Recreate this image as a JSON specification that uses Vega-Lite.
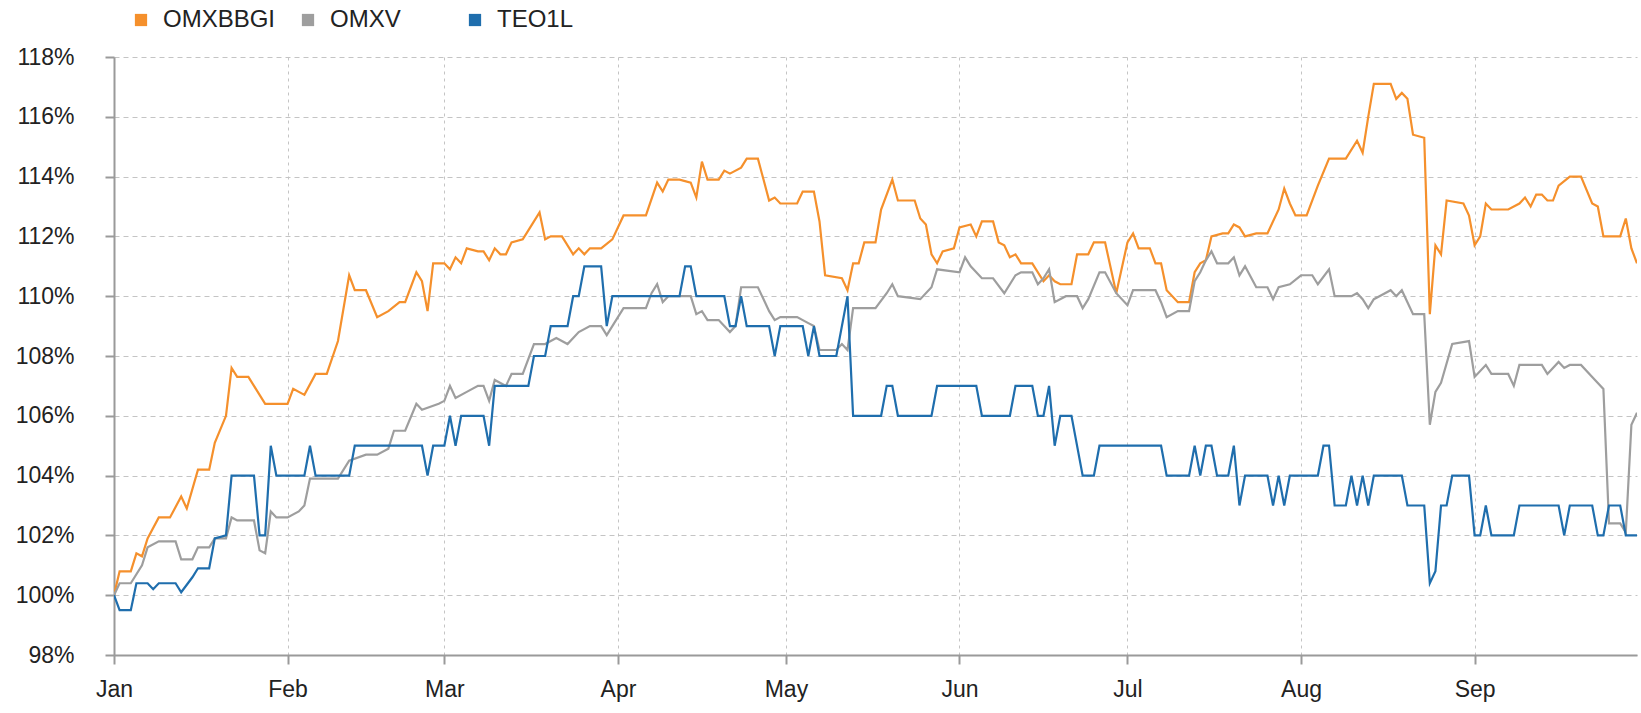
{
  "$schema": "https://vega.github.io/schema/vega-lite/v6.json",
  "width": 1523,
  "height": 598,
  "autosize": {"type": "none"},
  "padding": {"left": 114, "top": 57, "right": 4, "bottom": 58},
  "background": "white",
  "config": {
    "view": {"stroke": null},
    "font": "Liberation Sans, Arial, sans-serif",
    "axis": {
      "domainColor": "#9a9a9a",
      "domainWidth": 2,
      "tickColor": "#9a9a9a",
      "tickWidth": 2,
      "gridColor": "#c4c4c4",
      "gridWidth": 1,
      "labelFont": "Liberation Sans, Arial, sans-serif",
      "labelFontSize": 23,
      "labelColor": "#222222",
      "title": null
    },
    "legend": {
      "labelFont": "Liberation Sans, Arial, sans-serif",
      "labelFontSize": 24,
      "labelColor": "#222222"
    }
  },
  "data": {
    "values": [
      {"d":"2015-01-01","s":"OMXBBGI","v":100.0},{"d":"2015-01-02","s":"OMXBBGI","v":100.8},{"d":"2015-01-04","s":"OMXBBGI","v":100.8},{"d":"2015-01-05","s":"OMXBBGI","v":101.4},{"d":"2015-01-06","s":"OMXBBGI","v":101.3},{"d":"2015-01-07","s":"OMXBBGI","v":101.9},{"d":"2015-01-09","s":"OMXBBGI","v":102.6},{"d":"2015-01-11","s":"OMXBBGI","v":102.6},{"d":"2015-01-13","s":"OMXBBGI","v":103.3},{"d":"2015-01-14","s":"OMXBBGI","v":102.9},{"d":"2015-01-16","s":"OMXBBGI","v":104.2},{"d":"2015-01-18","s":"OMXBBGI","v":104.2},{"d":"2015-01-19","s":"OMXBBGI","v":105.1},{"d":"2015-01-21","s":"OMXBBGI","v":106.0},{"d":"2015-01-22","s":"OMXBBGI","v":107.6},{"d":"2015-01-23","s":"OMXBBGI","v":107.3},{"d":"2015-01-25","s":"OMXBBGI","v":107.3},{"d":"2015-01-27","s":"OMXBBGI","v":106.7},{"d":"2015-01-28","s":"OMXBBGI","v":106.4},{"d":"2015-01-30","s":"OMXBBGI","v":106.4},
      {"d":"2015-02-01","s":"OMXBBGI","v":106.4},{"d":"2015-02-02","s":"OMXBBGI","v":106.9},{"d":"2015-02-04","s":"OMXBBGI","v":106.7},{"d":"2015-02-06","s":"OMXBBGI","v":107.4},{"d":"2015-02-08","s":"OMXBBGI","v":107.4},{"d":"2015-02-10","s":"OMXBBGI","v":108.5},{"d":"2015-02-12","s":"OMXBBGI","v":110.7},{"d":"2015-02-13","s":"OMXBBGI","v":110.2},{"d":"2015-02-15","s":"OMXBBGI","v":110.2},{"d":"2015-02-17","s":"OMXBBGI","v":109.3},{"d":"2015-02-19","s":"OMXBBGI","v":109.5},{"d":"2015-02-21","s":"OMXBBGI","v":109.8},{"d":"2015-02-22","s":"OMXBBGI","v":109.8},{"d":"2015-02-24","s":"OMXBBGI","v":110.8},{"d":"2015-02-25","s":"OMXBBGI","v":110.5},{"d":"2015-02-26","s":"OMXBBGI","v":109.5},{"d":"2015-02-27","s":"OMXBBGI","v":111.1},
      {"d":"2015-03-01","s":"OMXBBGI","v":111.1},{"d":"2015-03-02","s":"OMXBBGI","v":110.9},{"d":"2015-03-03","s":"OMXBBGI","v":111.3},{"d":"2015-03-04","s":"OMXBBGI","v":111.1},{"d":"2015-03-05","s":"OMXBBGI","v":111.6},{"d":"2015-03-07","s":"OMXBBGI","v":111.5},{"d":"2015-03-08","s":"OMXBBGI","v":111.5},{"d":"2015-03-09","s":"OMXBBGI","v":111.2},{"d":"2015-03-10","s":"OMXBBGI","v":111.6},{"d":"2015-03-11","s":"OMXBBGI","v":111.4},{"d":"2015-03-12","s":"OMXBBGI","v":111.4},{"d":"2015-03-13","s":"OMXBBGI","v":111.8},{"d":"2015-03-15","s":"OMXBBGI","v":111.9},{"d":"2015-03-16","s":"OMXBBGI","v":112.2},{"d":"2015-03-18","s":"OMXBBGI","v":112.8},{"d":"2015-03-19","s":"OMXBBGI","v":111.9},{"d":"2015-03-20","s":"OMXBBGI","v":112.0},{"d":"2015-03-22","s":"OMXBBGI","v":112.0},{"d":"2015-03-24","s":"OMXBBGI","v":111.4},{"d":"2015-03-25","s":"OMXBBGI","v":111.6},{"d":"2015-03-26","s":"OMXBBGI","v":111.4},{"d":"2015-03-27","s":"OMXBBGI","v":111.6},{"d":"2015-03-29","s":"OMXBBGI","v":111.6},{"d":"2015-03-31","s":"OMXBBGI","v":111.9},
      {"d":"2015-04-02","s":"OMXBBGI","v":112.7},{"d":"2015-04-06","s":"OMXBBGI","v":112.7},{"d":"2015-04-08","s":"OMXBBGI","v":113.8},{"d":"2015-04-09","s":"OMXBBGI","v":113.5},{"d":"2015-04-10","s":"OMXBBGI","v":113.9},{"d":"2015-04-12","s":"OMXBBGI","v":113.9},{"d":"2015-04-14","s":"OMXBBGI","v":113.8},{"d":"2015-04-15","s":"OMXBBGI","v":113.3},{"d":"2015-04-16","s":"OMXBBGI","v":114.5},{"d":"2015-04-17","s":"OMXBBGI","v":113.9},{"d":"2015-04-19","s":"OMXBBGI","v":113.9},{"d":"2015-04-20","s":"OMXBBGI","v":114.2},{"d":"2015-04-21","s":"OMXBBGI","v":114.1},{"d":"2015-04-23","s":"OMXBBGI","v":114.3},{"d":"2015-04-24","s":"OMXBBGI","v":114.6},{"d":"2015-04-26","s":"OMXBBGI","v":114.6},{"d":"2015-04-27","s":"OMXBBGI","v":113.9},{"d":"2015-04-28","s":"OMXBBGI","v":113.2},{"d":"2015-04-29","s":"OMXBBGI","v":113.3},{"d":"2015-04-30","s":"OMXBBGI","v":113.1},
      {"d":"2015-05-03","s":"OMXBBGI","v":113.1},{"d":"2015-05-04","s":"OMXBBGI","v":113.5},{"d":"2015-05-06","s":"OMXBBGI","v":113.5},{"d":"2015-05-07","s":"OMXBBGI","v":112.5},{"d":"2015-05-08","s":"OMXBBGI","v":110.7},{"d":"2015-05-11","s":"OMXBBGI","v":110.6},{"d":"2015-05-12","s":"OMXBBGI","v":110.2},{"d":"2015-05-13","s":"OMXBBGI","v":111.1},{"d":"2015-05-14","s":"OMXBBGI","v":111.1},{"d":"2015-05-15","s":"OMXBBGI","v":111.8},{"d":"2015-05-17","s":"OMXBBGI","v":111.8},{"d":"2015-05-18","s":"OMXBBGI","v":112.9},{"d":"2015-05-20","s":"OMXBBGI","v":113.9},{"d":"2015-05-21","s":"OMXBBGI","v":113.2},{"d":"2015-05-24","s":"OMXBBGI","v":113.2},{"d":"2015-05-25","s":"OMXBBGI","v":112.6},{"d":"2015-05-26","s":"OMXBBGI","v":112.4},{"d":"2015-05-27","s":"OMXBBGI","v":111.4},{"d":"2015-05-28","s":"OMXBBGI","v":111.1},{"d":"2015-05-29","s":"OMXBBGI","v":111.5},{"d":"2015-05-31","s":"OMXBBGI","v":111.6},
      {"d":"2015-06-01","s":"OMXBBGI","v":112.3},{"d":"2015-06-03","s":"OMXBBGI","v":112.4},{"d":"2015-06-04","s":"OMXBBGI","v":112.0},{"d":"2015-06-05","s":"OMXBBGI","v":112.5},{"d":"2015-06-07","s":"OMXBBGI","v":112.5},{"d":"2015-06-08","s":"OMXBBGI","v":111.8},{"d":"2015-06-09","s":"OMXBBGI","v":111.7},{"d":"2015-06-10","s":"OMXBBGI","v":111.3},{"d":"2015-06-11","s":"OMXBBGI","v":111.4},{"d":"2015-06-12","s":"OMXBBGI","v":111.1},{"d":"2015-06-14","s":"OMXBBGI","v":111.1},{"d":"2015-06-16","s":"OMXBBGI","v":110.5},{"d":"2015-06-17","s":"OMXBBGI","v":110.7},{"d":"2015-06-18","s":"OMXBBGI","v":110.5},{"d":"2015-06-19","s":"OMXBBGI","v":110.4},{"d":"2015-06-21","s":"OMXBBGI","v":110.4},{"d":"2015-06-22","s":"OMXBBGI","v":111.4},{"d":"2015-06-24","s":"OMXBBGI","v":111.4},{"d":"2015-06-25","s":"OMXBBGI","v":111.8},{"d":"2015-06-27","s":"OMXBBGI","v":111.8},{"d":"2015-06-29","s":"OMXBBGI","v":110.1},
      {"d":"2015-07-01","s":"OMXBBGI","v":111.8},{"d":"2015-07-02","s":"OMXBBGI","v":112.1},{"d":"2015-07-03","s":"OMXBBGI","v":111.6},{"d":"2015-07-05","s":"OMXBBGI","v":111.6},{"d":"2015-07-06","s":"OMXBBGI","v":111.1},{"d":"2015-07-07","s":"OMXBBGI","v":111.1},{"d":"2015-07-08","s":"OMXBBGI","v":110.2},{"d":"2015-07-10","s":"OMXBBGI","v":109.8},{"d":"2015-07-12","s":"OMXBBGI","v":109.8},{"d":"2015-07-13","s":"OMXBBGI","v":110.8},{"d":"2015-07-14","s":"OMXBBGI","v":111.1},{"d":"2015-07-15","s":"OMXBBGI","v":111.2},{"d":"2015-07-16","s":"OMXBBGI","v":112.0},{"d":"2015-07-18","s":"OMXBBGI","v":112.1},{"d":"2015-07-19","s":"OMXBBGI","v":112.1},{"d":"2015-07-20","s":"OMXBBGI","v":112.4},{"d":"2015-07-21","s":"OMXBBGI","v":112.3},{"d":"2015-07-22","s":"OMXBBGI","v":112.0},{"d":"2015-07-24","s":"OMXBBGI","v":112.1},{"d":"2015-07-26","s":"OMXBBGI","v":112.1},{"d":"2015-07-28","s":"OMXBBGI","v":112.9},{"d":"2015-07-29","s":"OMXBBGI","v":113.6},{"d":"2015-07-30","s":"OMXBBGI","v":113.1},{"d":"2015-07-31","s":"OMXBBGI","v":112.7},
      {"d":"2015-08-02","s":"OMXBBGI","v":112.7},{"d":"2015-08-04","s":"OMXBBGI","v":113.7},{"d":"2015-08-06","s":"OMXBBGI","v":114.6},{"d":"2015-08-09","s":"OMXBBGI","v":114.6},{"d":"2015-08-11","s":"OMXBBGI","v":115.2},{"d":"2015-08-12","s":"OMXBBGI","v":114.8},{"d":"2015-08-13","s":"OMXBBGI","v":116.0},{"d":"2015-08-14","s":"OMXBBGI","v":117.1},{"d":"2015-08-17","s":"OMXBBGI","v":117.1},{"d":"2015-08-18","s":"OMXBBGI","v":116.6},{"d":"2015-08-19","s":"OMXBBGI","v":116.8},{"d":"2015-08-20","s":"OMXBBGI","v":116.6},{"d":"2015-08-21","s":"OMXBBGI","v":115.4},{"d":"2015-08-23","s":"OMXBBGI","v":115.3},{"d":"2015-08-24","s":"OMXBBGI","v":109.4},{"d":"2015-08-25","s":"OMXBBGI","v":111.7},{"d":"2015-08-26","s":"OMXBBGI","v":111.4},{"d":"2015-08-27","s":"OMXBBGI","v":113.2},{"d":"2015-08-30","s":"OMXBBGI","v":113.1},{"d":"2015-08-31","s":"OMXBBGI","v":112.7},
      {"d":"2015-09-01","s":"OMXBBGI","v":111.7},{"d":"2015-09-02","s":"OMXBBGI","v":112.0},{"d":"2015-09-03","s":"OMXBBGI","v":113.1},{"d":"2015-09-04","s":"OMXBBGI","v":112.9},{"d":"2015-09-07","s":"OMXBBGI","v":112.9},{"d":"2015-09-09","s":"OMXBBGI","v":113.1},{"d":"2015-09-10","s":"OMXBBGI","v":113.3},{"d":"2015-09-11","s":"OMXBBGI","v":113.0},{"d":"2015-09-12","s":"OMXBBGI","v":113.4},{"d":"2015-09-13","s":"OMXBBGI","v":113.4},{"d":"2015-09-14","s":"OMXBBGI","v":113.2},{"d":"2015-09-15","s":"OMXBBGI","v":113.2},{"d":"2015-09-16","s":"OMXBBGI","v":113.7},{"d":"2015-09-18","s":"OMXBBGI","v":114.0},{"d":"2015-09-20","s":"OMXBBGI","v":114.0},{"d":"2015-09-22","s":"OMXBBGI","v":113.1},{"d":"2015-09-23","s":"OMXBBGI","v":113.0},{"d":"2015-09-24","s":"OMXBBGI","v":112.0},{"d":"2015-09-27","s":"OMXBBGI","v":112.0},{"d":"2015-09-28","s":"OMXBBGI","v":112.6},{"d":"2015-09-29","s":"OMXBBGI","v":111.6},{"d":"2015-09-30","s":"OMXBBGI","v":111.1},

      {"d":"2015-01-01","s":"OMXV","v":100.0},{"d":"2015-01-02","s":"OMXV","v":100.4},{"d":"2015-01-04","s":"OMXV","v":100.4},{"d":"2015-01-06","s":"OMXV","v":101.0},{"d":"2015-01-07","s":"OMXV","v":101.6},{"d":"2015-01-09","s":"OMXV","v":101.8},{"d":"2015-01-12","s":"OMXV","v":101.8},{"d":"2015-01-13","s":"OMXV","v":101.2},{"d":"2015-01-15","s":"OMXV","v":101.2},{"d":"2015-01-16","s":"OMXV","v":101.6},{"d":"2015-01-18","s":"OMXV","v":101.6},{"d":"2015-01-19","s":"OMXV","v":101.9},{"d":"2015-01-21","s":"OMXV","v":101.9},{"d":"2015-01-22","s":"OMXV","v":102.6},{"d":"2015-01-23","s":"OMXV","v":102.5},{"d":"2015-01-26","s":"OMXV","v":102.5},{"d":"2015-01-27","s":"OMXV","v":101.5},{"d":"2015-01-28","s":"OMXV","v":101.4},{"d":"2015-01-29","s":"OMXV","v":102.8},{"d":"2015-01-30","s":"OMXV","v":102.6},
      {"d":"2015-02-01","s":"OMXV","v":102.6},{"d":"2015-02-03","s":"OMXV","v":102.8},{"d":"2015-02-04","s":"OMXV","v":103.0},{"d":"2015-02-05","s":"OMXV","v":103.9},{"d":"2015-02-10","s":"OMXV","v":103.9},{"d":"2015-02-12","s":"OMXV","v":104.5},{"d":"2015-02-15","s":"OMXV","v":104.7},{"d":"2015-02-17","s":"OMXV","v":104.7},{"d":"2015-02-19","s":"OMXV","v":104.9},{"d":"2015-02-20","s":"OMXV","v":105.5},{"d":"2015-02-22","s":"OMXV","v":105.5},{"d":"2015-02-24","s":"OMXV","v":106.4},{"d":"2015-02-25","s":"OMXV","v":106.2},{"d":"2015-02-28","s":"OMXV","v":106.4},
      {"d":"2015-03-01","s":"OMXV","v":106.5},{"d":"2015-03-02","s":"OMXV","v":107.0},{"d":"2015-03-03","s":"OMXV","v":106.6},{"d":"2015-03-05","s":"OMXV","v":106.8},{"d":"2015-03-07","s":"OMXV","v":107.0},{"d":"2015-03-08","s":"OMXV","v":107.0},{"d":"2015-03-09","s":"OMXV","v":106.5},{"d":"2015-03-10","s":"OMXV","v":107.2},{"d":"2015-03-12","s":"OMXV","v":107.0},{"d":"2015-03-13","s":"OMXV","v":107.4},{"d":"2015-03-15","s":"OMXV","v":107.4},{"d":"2015-03-17","s":"OMXV","v":108.4},{"d":"2015-03-19","s":"OMXV","v":108.4},{"d":"2015-03-20","s":"OMXV","v":108.5},{"d":"2015-03-21","s":"OMXV","v":108.6},{"d":"2015-03-23","s":"OMXV","v":108.4},{"d":"2015-03-25","s":"OMXV","v":108.8},{"d":"2015-03-27","s":"OMXV","v":109.0},{"d":"2015-03-29","s":"OMXV","v":109.0},{"d":"2015-03-30","s":"OMXV","v":108.7},{"d":"2015-03-31","s":"OMXV","v":109.0},
      {"d":"2015-04-01","s":"OMXV","v":109.3},{"d":"2015-04-02","s":"OMXV","v":109.6},{"d":"2015-04-06","s":"OMXV","v":109.6},{"d":"2015-04-07","s":"OMXV","v":110.1},{"d":"2015-04-08","s":"OMXV","v":110.4},{"d":"2015-04-09","s":"OMXV","v":109.8},{"d":"2015-04-10","s":"OMXV","v":110.0},{"d":"2015-04-14","s":"OMXV","v":110.0},{"d":"2015-04-15","s":"OMXV","v":109.4},{"d":"2015-04-16","s":"OMXV","v":109.5},{"d":"2015-04-17","s":"OMXV","v":109.2},{"d":"2015-04-19","s":"OMXV","v":109.2},{"d":"2015-04-21","s":"OMXV","v":108.8},{"d":"2015-04-22","s":"OMXV","v":109.0},{"d":"2015-04-23","s":"OMXV","v":110.3},{"d":"2015-04-26","s":"OMXV","v":110.3},{"d":"2015-04-28","s":"OMXV","v":109.5},{"d":"2015-04-29","s":"OMXV","v":109.2},{"d":"2015-04-30","s":"OMXV","v":109.3},
      {"d":"2015-05-03","s":"OMXV","v":109.3},{"d":"2015-05-05","s":"OMXV","v":109.1},{"d":"2015-05-06","s":"OMXV","v":109.0},{"d":"2015-05-07","s":"OMXV","v":108.2},{"d":"2015-05-10","s":"OMXV","v":108.2},{"d":"2015-05-11","s":"OMXV","v":108.4},{"d":"2015-05-12","s":"OMXV","v":108.2},{"d":"2015-05-13","s":"OMXV","v":109.6},{"d":"2015-05-17","s":"OMXV","v":109.6},{"d":"2015-05-19","s":"OMXV","v":110.1},{"d":"2015-05-20","s":"OMXV","v":110.4},{"d":"2015-05-21","s":"OMXV","v":110.0},{"d":"2015-05-25","s":"OMXV","v":109.9},{"d":"2015-05-27","s":"OMXV","v":110.3},{"d":"2015-05-28","s":"OMXV","v":110.9},
      {"d":"2015-06-01","s":"OMXV","v":110.8},{"d":"2015-06-02","s":"OMXV","v":111.3},{"d":"2015-06-03","s":"OMXV","v":111.0},{"d":"2015-06-05","s":"OMXV","v":110.6},{"d":"2015-06-07","s":"OMXV","v":110.6},{"d":"2015-06-09","s":"OMXV","v":110.1},{"d":"2015-06-11","s":"OMXV","v":110.7},{"d":"2015-06-12","s":"OMXV","v":110.8},{"d":"2015-06-14","s":"OMXV","v":110.8},{"d":"2015-06-15","s":"OMXV","v":110.4},{"d":"2015-06-16","s":"OMXV","v":110.6},{"d":"2015-06-17","s":"OMXV","v":110.9},{"d":"2015-06-18","s":"OMXV","v":109.8},{"d":"2015-06-20","s":"OMXV","v":110.0},{"d":"2015-06-22","s":"OMXV","v":110.0},{"d":"2015-06-23","s":"OMXV","v":109.6},{"d":"2015-06-24","s":"OMXV","v":109.9},{"d":"2015-06-26","s":"OMXV","v":110.8},{"d":"2015-06-27","s":"OMXV","v":110.8},{"d":"2015-06-29","s":"OMXV","v":110.1},
      {"d":"2015-07-01","s":"OMXV","v":109.7},{"d":"2015-07-02","s":"OMXV","v":110.2},{"d":"2015-07-06","s":"OMXV","v":110.2},{"d":"2015-07-07","s":"OMXV","v":109.8},{"d":"2015-07-08","s":"OMXV","v":109.3},{"d":"2015-07-10","s":"OMXV","v":109.5},{"d":"2015-07-12","s":"OMXV","v":109.5},{"d":"2015-07-13","s":"OMXV","v":110.5},{"d":"2015-07-14","s":"OMXV","v":110.8},{"d":"2015-07-15","s":"OMXV","v":111.2},{"d":"2015-07-16","s":"OMXV","v":111.5},{"d":"2015-07-17","s":"OMXV","v":111.1},{"d":"2015-07-19","s":"OMXV","v":111.1},{"d":"2015-07-20","s":"OMXV","v":111.3},{"d":"2015-07-21","s":"OMXV","v":110.7},{"d":"2015-07-22","s":"OMXV","v":111.0},{"d":"2015-07-24","s":"OMXV","v":110.3},{"d":"2015-07-26","s":"OMXV","v":110.3},{"d":"2015-07-27","s":"OMXV","v":109.9},{"d":"2015-07-28","s":"OMXV","v":110.3},{"d":"2015-07-30","s":"OMXV","v":110.4},
      {"d":"2015-08-01","s":"OMXV","v":110.7},{"d":"2015-08-03","s":"OMXV","v":110.7},{"d":"2015-08-04","s":"OMXV","v":110.4},{"d":"2015-08-06","s":"OMXV","v":110.9},{"d":"2015-08-07","s":"OMXV","v":110.0},{"d":"2015-08-10","s":"OMXV","v":110.0},{"d":"2015-08-11","s":"OMXV","v":110.1},{"d":"2015-08-12","s":"OMXV","v":109.9},{"d":"2015-08-13","s":"OMXV","v":109.6},{"d":"2015-08-14","s":"OMXV","v":109.9},{"d":"2015-08-15","s":"OMXV","v":110.0},{"d":"2015-08-17","s":"OMXV","v":110.2},{"d":"2015-08-18","s":"OMXV","v":110.0},{"d":"2015-08-19","s":"OMXV","v":110.2},{"d":"2015-08-20","s":"OMXV","v":109.8},{"d":"2015-08-21","s":"OMXV","v":109.4},{"d":"2015-08-23","s":"OMXV","v":109.4},{"d":"2015-08-24","s":"OMXV","v":105.7},{"d":"2015-08-25","s":"OMXV","v":106.8},{"d":"2015-08-26","s":"OMXV","v":107.1},{"d":"2015-08-28","s":"OMXV","v":108.4},{"d":"2015-08-31","s":"OMXV","v":108.5},
      {"d":"2015-09-01","s":"OMXV","v":107.3},{"d":"2015-09-03","s":"OMXV","v":107.7},{"d":"2015-09-04","s":"OMXV","v":107.4},{"d":"2015-09-07","s":"OMXV","v":107.4},{"d":"2015-09-08","s":"OMXV","v":107.0},{"d":"2015-09-09","s":"OMXV","v":107.7},{"d":"2015-09-13","s":"OMXV","v":107.7},{"d":"2015-09-14","s":"OMXV","v":107.4},{"d":"2015-09-16","s":"OMXV","v":107.8},{"d":"2015-09-17","s":"OMXV","v":107.6},{"d":"2015-09-18","s":"OMXV","v":107.7},{"d":"2015-09-20","s":"OMXV","v":107.7},{"d":"2015-09-22","s":"OMXV","v":107.3},{"d":"2015-09-24","s":"OMXV","v":106.9},{"d":"2015-09-25","s":"OMXV","v":102.4},{"d":"2015-09-27","s":"OMXV","v":102.4},{"d":"2015-09-28","s":"OMXV","v":102.1},{"d":"2015-09-29","s":"OMXV","v":105.7},{"d":"2015-09-30","s":"OMXV","v":106.1},

      {"d":"2015-01-01","s":"TEO1L","v":100.0},{"d":"2015-01-02","s":"TEO1L","v":99.5},{"d":"2015-01-04","s":"TEO1L","v":99.5},{"d":"2015-01-05","s":"TEO1L","v":100.4},{"d":"2015-01-07","s":"TEO1L","v":100.4},{"d":"2015-01-08","s":"TEO1L","v":100.2},{"d":"2015-01-09","s":"TEO1L","v":100.4},{"d":"2015-01-12","s":"TEO1L","v":100.4},{"d":"2015-01-13","s":"TEO1L","v":100.1},{"d":"2015-01-15","s":"TEO1L","v":100.6},{"d":"2015-01-16","s":"TEO1L","v":100.9},{"d":"2015-01-18","s":"TEO1L","v":100.9},{"d":"2015-01-19","s":"TEO1L","v":101.9},{"d":"2015-01-21","s":"TEO1L","v":102.0},{"d":"2015-01-22","s":"TEO1L","v":104.0},{"d":"2015-01-26","s":"TEO1L","v":104.0},{"d":"2015-01-27","s":"TEO1L","v":102.0},{"d":"2015-01-28","s":"TEO1L","v":102.0},{"d":"2015-01-29","s":"TEO1L","v":105.0},{"d":"2015-01-30","s":"TEO1L","v":104.0},
      {"d":"2015-02-04","s":"TEO1L","v":104.0},{"d":"2015-02-05","s":"TEO1L","v":105.0},{"d":"2015-02-06","s":"TEO1L","v":104.0},{"d":"2015-02-12","s":"TEO1L","v":104.0},{"d":"2015-02-13","s":"TEO1L","v":105.0},{"d":"2015-02-25","s":"TEO1L","v":105.0},{"d":"2015-02-26","s":"TEO1L","v":104.0},{"d":"2015-02-27","s":"TEO1L","v":105.0},
      {"d":"2015-03-01","s":"TEO1L","v":105.0},{"d":"2015-03-02","s":"TEO1L","v":106.0},{"d":"2015-03-03","s":"TEO1L","v":105.0},{"d":"2015-03-04","s":"TEO1L","v":106.0},{"d":"2015-03-08","s":"TEO1L","v":106.0},{"d":"2015-03-09","s":"TEO1L","v":105.0},{"d":"2015-03-10","s":"TEO1L","v":107.0},{"d":"2015-03-16","s":"TEO1L","v":107.0},{"d":"2015-03-17","s":"TEO1L","v":108.0},{"d":"2015-03-19","s":"TEO1L","v":108.0},{"d":"2015-03-20","s":"TEO1L","v":109.0},{"d":"2015-03-23","s":"TEO1L","v":109.0},{"d":"2015-03-24","s":"TEO1L","v":110.0},{"d":"2015-03-25","s":"TEO1L","v":110.0},{"d":"2015-03-26","s":"TEO1L","v":111.0},{"d":"2015-03-29","s":"TEO1L","v":111.0},{"d":"2015-03-30","s":"TEO1L","v":109.0},{"d":"2015-03-31","s":"TEO1L","v":110.0},
      {"d":"2015-04-12","s":"TEO1L","v":110.0},{"d":"2015-04-13","s":"TEO1L","v":111.0},{"d":"2015-04-14","s":"TEO1L","v":111.0},{"d":"2015-04-15","s":"TEO1L","v":110.0},{"d":"2015-04-20","s":"TEO1L","v":110.0},{"d":"2015-04-21","s":"TEO1L","v":109.0},{"d":"2015-04-22","s":"TEO1L","v":109.0},{"d":"2015-04-23","s":"TEO1L","v":110.0},{"d":"2015-04-24","s":"TEO1L","v":109.0},{"d":"2015-04-28","s":"TEO1L","v":109.0},{"d":"2015-04-29","s":"TEO1L","v":108.0},{"d":"2015-04-30","s":"TEO1L","v":109.0},
      {"d":"2015-05-04","s":"TEO1L","v":109.0},{"d":"2015-05-05","s":"TEO1L","v":108.0},{"d":"2015-05-06","s":"TEO1L","v":109.0},{"d":"2015-05-07","s":"TEO1L","v":108.0},{"d":"2015-05-10","s":"TEO1L","v":108.0},{"d":"2015-05-12","s":"TEO1L","v":110.0},{"d":"2015-05-13","s":"TEO1L","v":106.0},{"d":"2015-05-18","s":"TEO1L","v":106.0},{"d":"2015-05-19","s":"TEO1L","v":107.0},{"d":"2015-05-20","s":"TEO1L","v":107.0},{"d":"2015-05-21","s":"TEO1L","v":106.0},{"d":"2015-05-27","s":"TEO1L","v":106.0},{"d":"2015-05-28","s":"TEO1L","v":107.0},
      {"d":"2015-06-04","s":"TEO1L","v":107.0},{"d":"2015-06-05","s":"TEO1L","v":106.0},{"d":"2015-06-10","s":"TEO1L","v":106.0},{"d":"2015-06-11","s":"TEO1L","v":107.0},{"d":"2015-06-14","s":"TEO1L","v":107.0},{"d":"2015-06-15","s":"TEO1L","v":106.0},{"d":"2015-06-16","s":"TEO1L","v":106.0},{"d":"2015-06-17","s":"TEO1L","v":107.0},{"d":"2015-06-18","s":"TEO1L","v":105.0},{"d":"2015-06-19","s":"TEO1L","v":106.0},{"d":"2015-06-21","s":"TEO1L","v":106.0},{"d":"2015-06-23","s":"TEO1L","v":104.0},{"d":"2015-06-25","s":"TEO1L","v":104.0},{"d":"2015-06-26","s":"TEO1L","v":105.0},
      {"d":"2015-07-07","s":"TEO1L","v":105.0},{"d":"2015-07-08","s":"TEO1L","v":104.0},{"d":"2015-07-12","s":"TEO1L","v":104.0},{"d":"2015-07-13","s":"TEO1L","v":105.0},{"d":"2015-07-14","s":"TEO1L","v":104.0},{"d":"2015-07-15","s":"TEO1L","v":105.0},{"d":"2015-07-16","s":"TEO1L","v":105.0},{"d":"2015-07-17","s":"TEO1L","v":104.0},{"d":"2015-07-19","s":"TEO1L","v":104.0},{"d":"2015-07-20","s":"TEO1L","v":105.0},{"d":"2015-07-21","s":"TEO1L","v":103.0},{"d":"2015-07-22","s":"TEO1L","v":104.0},{"d":"2015-07-26","s":"TEO1L","v":104.0},{"d":"2015-07-27","s":"TEO1L","v":103.0},{"d":"2015-07-28","s":"TEO1L","v":104.0},{"d":"2015-07-29","s":"TEO1L","v":103.0},{"d":"2015-07-30","s":"TEO1L","v":104.0},
      {"d":"2015-08-04","s":"TEO1L","v":104.0},{"d":"2015-08-05","s":"TEO1L","v":105.0},{"d":"2015-08-06","s":"TEO1L","v":105.0},{"d":"2015-08-07","s":"TEO1L","v":103.0},{"d":"2015-08-09","s":"TEO1L","v":103.0},{"d":"2015-08-10","s":"TEO1L","v":104.0},{"d":"2015-08-11","s":"TEO1L","v":103.0},{"d":"2015-08-12","s":"TEO1L","v":104.0},{"d":"2015-08-13","s":"TEO1L","v":103.0},{"d":"2015-08-14","s":"TEO1L","v":104.0},{"d":"2015-08-19","s":"TEO1L","v":104.0},{"d":"2015-08-20","s":"TEO1L","v":103.0},{"d":"2015-08-23","s":"TEO1L","v":103.0},{"d":"2015-08-24","s":"TEO1L","v":100.4},{"d":"2015-08-25","s":"TEO1L","v":100.8},{"d":"2015-08-26","s":"TEO1L","v":103.0},{"d":"2015-08-27","s":"TEO1L","v":103.0},{"d":"2015-08-28","s":"TEO1L","v":104.0},{"d":"2015-08-31","s":"TEO1L","v":104.0},
      {"d":"2015-09-01","s":"TEO1L","v":102.0},{"d":"2015-09-02","s":"TEO1L","v":102.0},{"d":"2015-09-03","s":"TEO1L","v":103.0},{"d":"2015-09-04","s":"TEO1L","v":102.0},{"d":"2015-09-08","s":"TEO1L","v":102.0},{"d":"2015-09-09","s":"TEO1L","v":103.0},{"d":"2015-09-16","s":"TEO1L","v":103.0},{"d":"2015-09-17","s":"TEO1L","v":102.0},{"d":"2015-09-18","s":"TEO1L","v":103.0},{"d":"2015-09-22","s":"TEO1L","v":103.0},{"d":"2015-09-23","s":"TEO1L","v":102.0},{"d":"2015-09-24","s":"TEO1L","v":102.0},{"d":"2015-09-25","s":"TEO1L","v":103.0},{"d":"2015-09-27","s":"TEO1L","v":103.0},{"d":"2015-09-28","s":"TEO1L","v":102.0},{"d":"2015-09-30","s":"TEO1L","v":102.0}
    ]
  },
  "mark": {"type": "line", "strokeWidth": 2.2, "interpolate": "linear", "clip": true},
  "encoding": {
    "x": {
      "field": "d",
      "type": "temporal",
      "scale": {"domain": ["2015-01-01", "2015-09-30"], "nice": false},
      "axis": {
        "format": "%b",
        "tickCount": {"interval": "month", "step": 1},
        "grid": true,
        "gridDash": [3, 4],
        "tickSize": 9,
        "labelPadding": 14,
        "labelAlign": "center"
      }
    },
    "y": {
      "field": "v",
      "type": "quantitative",
      "scale": {"domain": [98, 118], "nice": false, "zero": false},
      "axis": {
        "values": [98, 100, 102, 104, 106, 108, 110, 112, 114, 116, 118],
        "labelExpr": "datum.value + '%'",
        "grid": true,
        "gridDash": [5, 4],
        "tickSize": 9,
        "labelPadding": 31
      }
    },
    "color": {
      "field": "s",
      "type": "nominal",
      "scale": {"domain": ["OMXBBGI", "OMXV", "TEO1L"], "range": ["#f5902c", "#9e9e9e", "#1f6ead"]},
      "legend": {
        "title": null,
        "orient": "none",
        "legendX": 15,
        "legendY": -49,
        "direction": "horizontal",
        "columns": 3,
        "gridAlign": "all",
        "symbolType": "square",
        "symbolSize": 150,
        "labelOffset": 10,
        "columnPadding": 20,
        "encode": {
          "symbols": {
            "update": {
              "fill": {"scale": "color", "field": "value"},
              "fillOpacity": {"value": 1},
              "strokeWidth": {"value": 0}
            }
          }
        }
      }
    }
  }
}
